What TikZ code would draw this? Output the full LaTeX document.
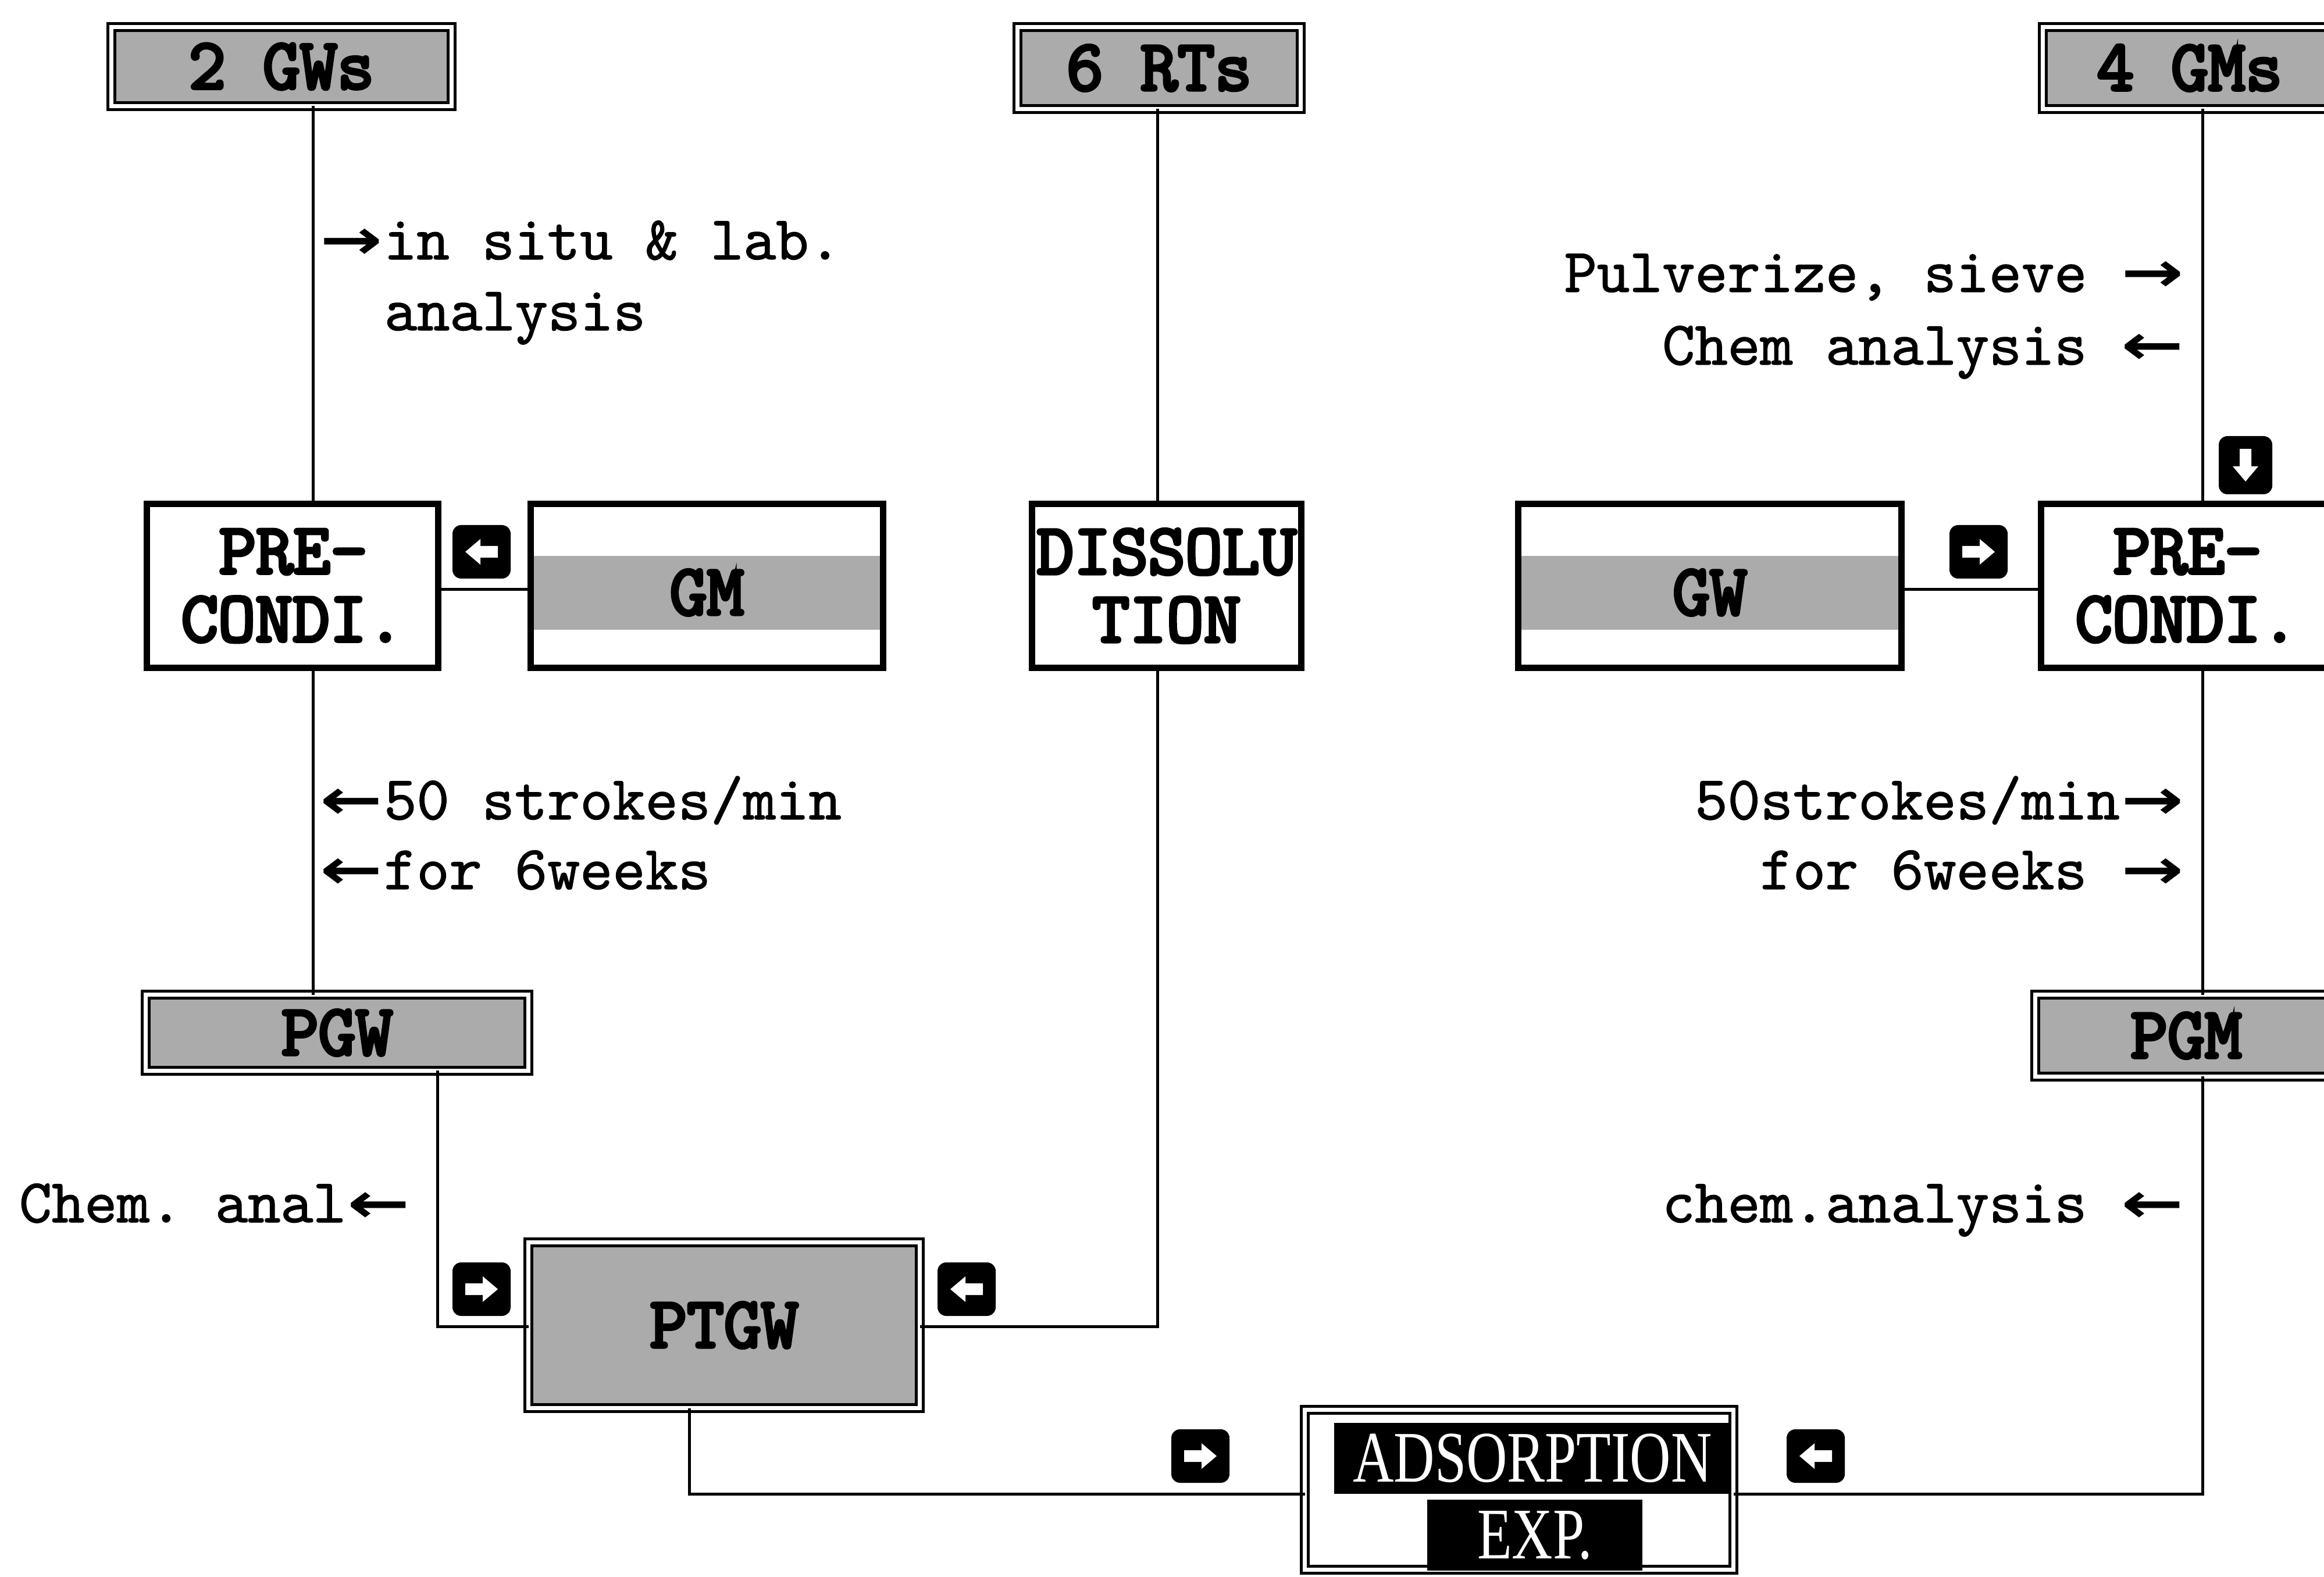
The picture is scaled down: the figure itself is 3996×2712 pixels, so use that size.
\documentclass[tikz,border=0pt]{standalone}
\usepackage{fontspec}
\usepackage{graphicx}
\usetikzlibrary{calc}
\newfontfamily\lblfont[FakeBold=1.2]{Latin Modern Mono}
\newfontfamily\boxfont[FakeBold=4.5]{Latin Modern Mono}
\newfontfamily\arrfont{DejaVu Sans}
\newfontfamily\condfont[FakeStretch=0.78]{Liberation Serif}
\newcommand\lblf{\lblfont\bfseries\fontsize{10.7}{12.3}\selectfont\frenchspacing}
\newcommand\boxf{\boxfont\bfseries\fontsize{12.4}{11.7}\selectfont\frenchspacing}
\newcommand\adsf{\condfont\fontsize{12.5}{12.5}\selectfont}
\newcommand\myra{\makebox[1.05em]{\arrfont\scalebox{1.2}[0.9]{→}}}
\newcommand\myla{\makebox[1.05em]{\arrfont\scalebox{1.2}[0.9]{←}}}
\begin{document}
\begin{tikzpicture}[x=0.1pt,y=-0.1pt,
  conn/.style={line width=0.5pt},
  probox/.style={draw, line width=1.1pt, fill=white, inner sep=0pt, outer sep=0pt, font=\boxf, align=center},
  grybox/.style={draw, double=white, double distance=0.7pt, line width=0.5pt, fill=black!33, inner sep=0pt, outer sep=0pt, font=\boxf, align=center},
  adsbox/.style={draw, double=white, double distance=0.7pt, line width=0.5pt, fill=white, inner sep=0pt, outer sep=0pt},
  invband/.style={fill=black, text=white, font=\adsf, inner sep=0pt, minimum height=12.2pt},
  bandfill/.style={fill=black!33},
  lbl/.style={inner sep=0pt, outer sep=0pt, font=\lblf},
  icon/.pic={
    \fill[black, rounded corners=1.5pt] (-50,-46) rectangle (50,46);
    \fill[white] (-28,-10) -- (2,-10) -- (2,-22) -- (28,0) -- (2,22) -- (2,10) -- (-28,10) -- cycle;
  }]
\useasboundingbox (0,0) rectangle (3996,2712);
\clip (0,0) rectangle (3996,2712);

% guide coordinates
\coordinate (lx) at (538,0);
\coordinate (px) at (752,0);
\coordinate (ptx) at (1185,0);
\coordinate (rtx) at (1990,0);
\coordinate (rx) at (3787,0);
\coordinate (gmy) at (0,1014);
\coordinate (pty) at (0,2281);
\coordinate (ady) at (0,2569);

% top boxes
\node[grybox, minimum width=58.5pt, minimum height=13.6pt] (gws) at (484,114.5) {2 GWs};
\node[grybox, minimum width=48.7pt, minimum height=14.1pt] (rts) at (1993,117) {6 RTs};
\node[grybox, minimum width=50.5pt, minimum height=14.1pt] (gms) at (3765,117) {4 GMs};

% middle row
\node[probox, minimum width=50.1pt, minimum height=28.2pt, align=left] (pcL) at (503,1007.5) {\hspace*{0.525em}PRE-\\CONDI.};
\node[probox, minimum width=60.6pt, minimum height=28.2pt] (gm) at (1215.5,1007.5) {};
\fill[bandfill] ([shift={(0.55pt,5.15pt)}]gm.west) rectangle ([shift={(-0.55pt,-7.55pt)}]gm.east);
\node[lbl, font=\boxf] (gmlbl) at (1215.5,1019) {GM};
\node[probox, minimum width=46.3pt, minimum height=28.2pt] (dis) at (2006,1007.5) {DISSOLU\\TION};
\node[probox, minimum width=65.9pt, minimum height=28.2pt] (gw) at (2940,1007.5) {};
\fill[bandfill] ([shift={(0.55pt,5.15pt)}]gw.west) rectangle ([shift={(-0.55pt,-7.55pt)}]gw.east);
\node[lbl, font=\boxf] (gwlbl) at (2940,1019) {GW};
\node[probox, minimum width=50.1pt, minimum height=28.2pt, align=left] (pcR) at (3760,1007.5) {\hspace*{0.525em}PRE-\\CONDI.};

% lower boxes
\node[grybox, minimum width=65.8pt, minimum height=13.1pt] (pgw) at (579.5,1776) {PGW};
\node[grybox, minimum width=51.9pt, minimum height=14.1pt] (pgm) at (3759,1781) {PGM};
\node[grybox, minimum width=67.3pt, minimum height=28.5pt] (ptgw) at (1245,2279) {PTGW};
\node[adsbox, minimum width=73.7pt, minimum height=27.5pt] (ads) at (2612,2562) {};
\node[invband, minimum width=68.3pt] (adsa) at (2635,2508) {ADSORPTION};
\node[invband, minimum width=37pt] (adsb) at (2639,2640) {EXP.};

% connectors
\draw[conn] (gws.south -| lx) -- (pcL.north -| lx);
\draw[conn] (pcL.south -| lx) -- (pgw.north -| lx);
\draw[conn] (pcL.east |- gmy) -- (gm.west |- gmy);
\draw[conn] (rts.south -| rtx) -- (dis.north -| rtx);
\draw[conn] (dis.south -| rtx) |- (ptgw.east |- pty);
\draw[conn] (pgw.south -| px) |- (ptgw.west |- pty);
\draw[conn] (ptgw.south -| ptx) |- (ads.west |- ady);
\draw[conn] (gms.south -| rx) -- (pcR.north -| rx);
\draw[conn] (pcR.south -| rx) -- (pgm.north -| rx);
\draw[conn] (pgm.south -| rx) |- (ads.east |- ady);
\draw[conn] (gw.east |- gmy) -- (pcR.west |- gmy);

% direction icons
\pic[rotate=180] at (828,949) {icon};
\pic at (3402,949) {icon};
\pic[rotate=-90] at (3861,800) {icon};
\pic at (828,2217) {icon};
\pic[rotate=180] at (1662,2217) {icon};
\pic at (2064,2504) {icon};
\pic[rotate=180] at (3122,2504) {icon};

% labels
\node[lbl, anchor=base west] (t1) at (548,446) {\myra in situ \& lab.};
\node[lbl, anchor=base west] (t2) at (661,568) {analysis};
\node[lbl, anchor=base west] (t3) at (548,1409) {\myla 50 strokes/min};
\node[lbl, anchor=base west] (t4) at (548,1529) {\myla for 6weeks};
\node[lbl, anchor=base east] (t5) at (3757,502) {Pulverize, sieve \myra};
\node[lbl, anchor=base east] (t6) at (3757,627) {Chem analysis \myla};
\node[lbl, anchor=base east] (t7) at (3757,1409) {50strokes/min\myra};
\node[lbl, anchor=base east] (t8) at (3757,1529) {for 6weeks \myra};
\node[lbl, anchor=base east] (t9) at (3757,2102) {chem.analysis \myla};
\node[lbl, anchor=base west] (t10) at (33,2102) {Chem. anal\myla};
\end{tikzpicture}
\end{document}
